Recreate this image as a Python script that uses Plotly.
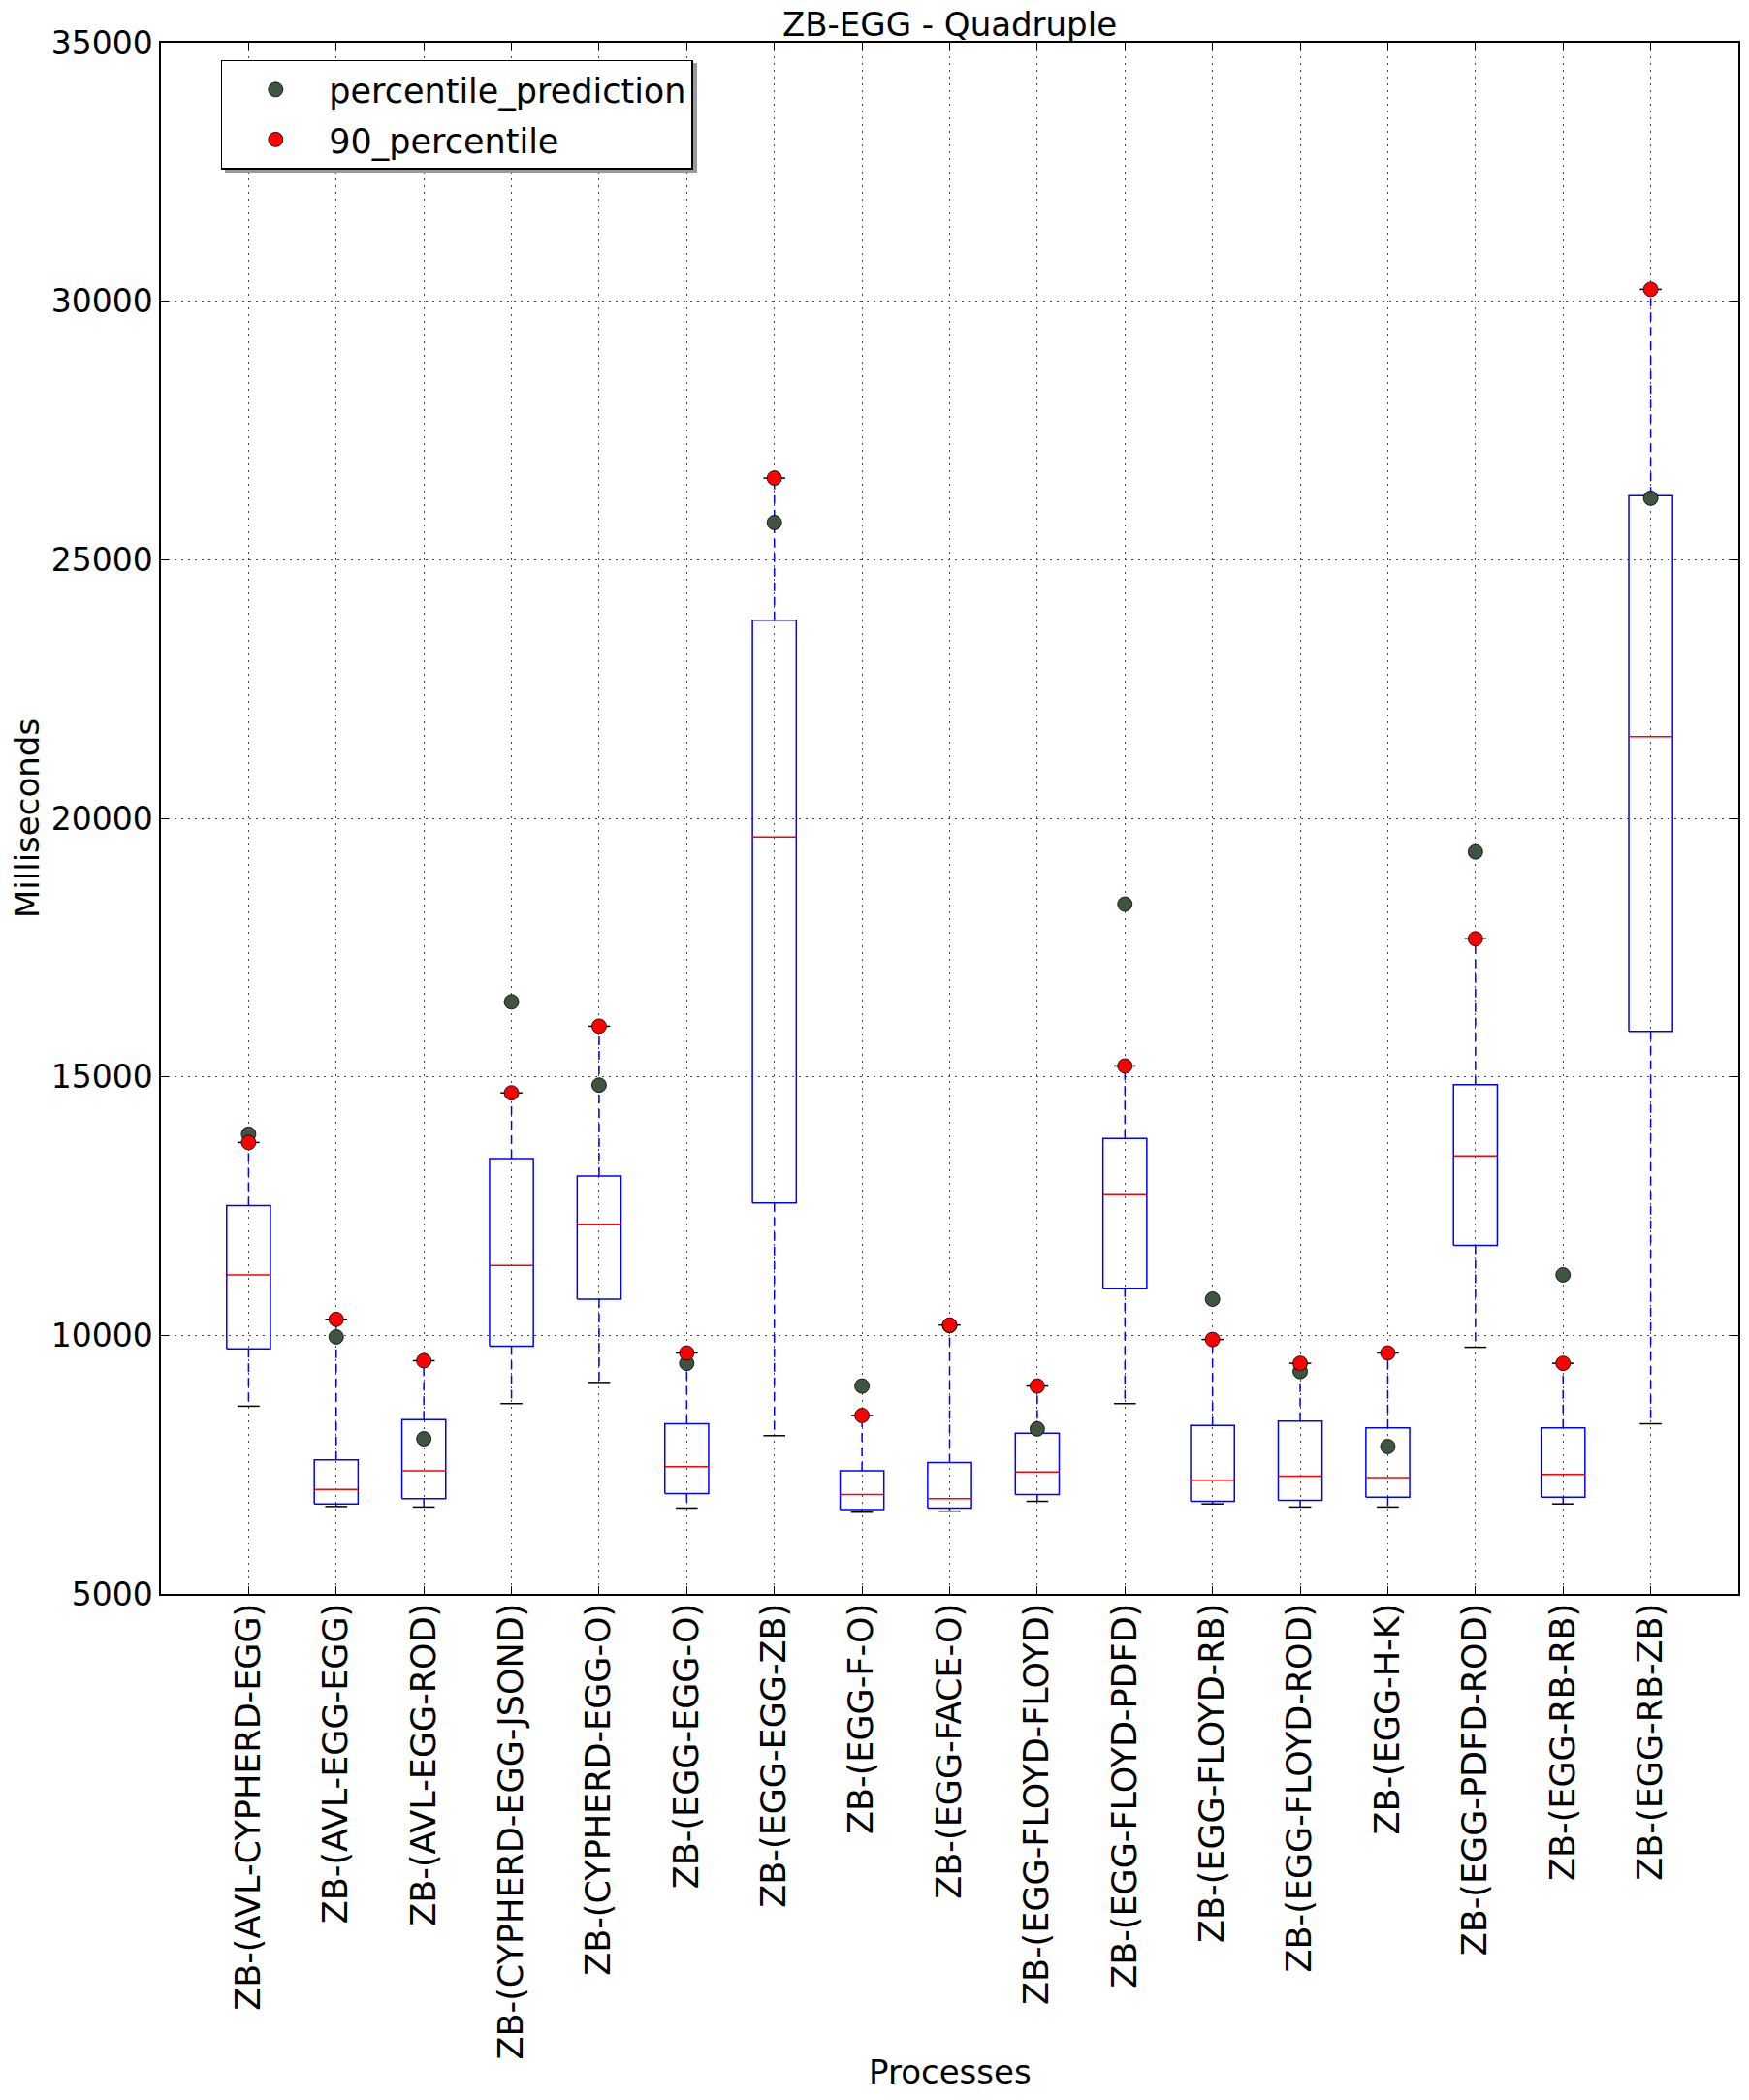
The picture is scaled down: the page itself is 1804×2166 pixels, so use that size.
import plotly.graph_objects as go

categories = [
    "ZB-(AVL-CYPHERD-EGG)", "ZB-(AVL-EGG-EGG)", "ZB-(AVL-EGG-ROD)",
    "ZB-(CYPHERD-EGG-JSOND)", "ZB-(CYPHERD-EGG-O)", "ZB-(EGG-EGG-O)",
    "ZB-(EGG-EGG-ZB)", "ZB-(EGG-F-O)", "ZB-(EGG-FACE-O)",
    "ZB-(EGG-FLOYD-FLOYD)", "ZB-(EGG-FLOYD-PDFD)", "ZB-(EGG-FLOYD-RB)",
    "ZB-(EGG-FLOYD-ROD)", "ZB-(EGG-H-K)", "ZB-(EGG-PDFD-ROD)",
    "ZB-(EGG-RB-RB)", "ZB-(EGG-RB-ZB)",
]
whisker_low = [8630, 6690, 6680, 8680, 9090, 6660, 8060, 6580, 6600, 6790, 8680, 6740, 6680, 6680, 9770, 6740, 8290]
q1 = [9740, 6740, 6840, 9790, 10700, 6940, 12560, 6630, 6660, 6920, 10910, 6790, 6810, 6870, 11740, 6870, 15880]
median = [11170, 7020, 7380, 11350, 12150, 7460, 19640, 6920, 6840, 7360, 12720, 7200, 7280, 7250, 13470, 7310, 21580]
q3 = [12510, 7590, 8370, 13420, 13080, 8290, 23830, 7380, 7540, 8110, 13810, 8260, 8340, 8210, 14850, 8210, 26240]
whisker_high = [13730, 10310, 9510, 14690, 15980, 9660, 26580, 8450, 10200, 9020, 15210, 9920, 9460, 9660, 17670, 9460, 30230]
percentile_90 = [13730, 10310, 9510, 14690, 15980, 9660, 26580, 8450, 10200, 9020, 15210, 9920, 9460, 9660, 17670, 9460, 30230]
percentile_prediction = [13890, 9970, 8000, 16450, 14840, 9460, 25720, 9020, 10190, 8190, 18340, 10700, 9300, 7850, 19350, 11170, 26190]

positions = list(range(1, len(categories) + 1))
BOX_HALF = 0.25
CAP_HALF = 0.125

box_x, box_y = [], []
med_x, med_y = [], []
wh_x, wh_y = [], []
cap_x, cap_y = [], []
for p, lo, a, m, b, hi in zip(positions, whisker_low, q1, median, q3, whisker_high):
    box_x += [p - BOX_HALF, p + BOX_HALF, p + BOX_HALF, p - BOX_HALF, p - BOX_HALF, None]
    box_y += [a, a, b, b, a, None]
    med_x += [p - BOX_HALF, p + BOX_HALF, None]
    med_y += [m, m, None]
    wh_x += [p, p, None, p, p, None]
    wh_y += [b, hi, None, a, lo, None]
    cap_x += [p - CAP_HALF, p + CAP_HALF, None, p - CAP_HALF, p + CAP_HALF, None]
    cap_y += [hi, hi, None, lo, lo, None]

fig = go.Figure()
fig.add_trace(go.Scatter(x=wh_x, y=wh_y, mode="lines", showlegend=False, hoverinfo="skip",
                         line=dict(color="#0000ff", width=1.5, dash="9px,6px")))
fig.add_trace(go.Scatter(x=box_x, y=box_y, mode="lines", showlegend=False, hoverinfo="skip",
                         line=dict(color="#0000ff", width=1.5)))
fig.add_trace(go.Scatter(x=med_x, y=med_y, mode="lines", showlegend=False, hoverinfo="skip",
                         line=dict(color="#ff0000", width=1.5)))
fig.add_trace(go.Scatter(x=cap_x, y=cap_y, mode="lines", showlegend=False, hoverinfo="skip",
                         line=dict(color="#000000", width=1.5)))
fig.add_trace(go.Scatter(x=positions, y=percentile_prediction, mode="markers", name="percentile_prediction",
                         legendgroup="a",
                         marker=dict(color="#3d5541", size=15, line=dict(color="#000000", width=0.8))))
fig.add_trace(go.Scatter(x=positions, y=percentile_90, mode="markers", name="90_percentile",
                         legendgroup="b",
                         marker=dict(color="#ff0000", size=15, line=dict(color="#000000", width=0.8))))

FONT = "DejaVu Sans"
W, H = 1796, 2158          # page body has an 8px margin
ML, MT = 158, 36
PW, PH = 1627, 1600
PLOT_LEFT, PLOT_TOP = 166, 44   # page pixels of the plot area corner

# legend drop shadow (page pixels -> paper coords)
sh_x0, sh_x1, sh_y0, sh_y1 = 232, 719, 65, 178
fig.update_layout(
    width=W, height=H,
    margin=dict(l=ML, r=W - ML - PW, t=MT, b=H - MT - PH),
    paper_bgcolor="white", plot_bgcolor="white",
    font=dict(family=FONT, size=33, color="black"),
    title=dict(text="ZB-EGG - Quadruple", x=(ML + PW / 2) / W, xanchor="center",
               y=1 - 29 / H, yanchor="bottom",
               font=dict(family=FONT, size=34, color="black")),
    legend=dict(x=0.038, y=0.989, xanchor="left", yanchor="top",
                bgcolor="white", bordercolor="black", borderwidth=1.5,
                font=dict(family=FONT, size=35), itemwidth=100, tracegroupgap=3),
    shapes=[dict(type="rect", xref="paper", yref="paper", layer="above",
                 x0=(sh_x0 - PLOT_LEFT) / PW, x1=(sh_x1 - PLOT_LEFT) / PW,
                 y0=1 - (sh_y1 - PLOT_TOP) / PH, y1=1 - (sh_y0 - PLOT_TOP) / PH,
                 fillcolor="#9a9a9a", line=dict(width=0))],
    xaxis=dict(
        range=[0, len(categories) + 1], tickmode="array", tickvals=positions, ticktext=categories,
        tickangle=-90, showgrid=True, gridcolor="#444", griddash="2px,5px", gridwidth=1,
        showline=True, linecolor="black", linewidth=1.5, mirror="ticks",
        ticks="inside", ticklen=8, tickcolor="black", zeroline=False,
        ticklabelstandoff=-6, automargin=False, tickfont=dict(family=FONT, size=35),
    ),
    yaxis=dict(
        range=[5000, 35000], tickmode="linear", tick0=5000, dtick=5000, tickformat="d",
        showgrid=True, gridcolor="#444", griddash="2px,5px", gridwidth=1,
        showline=True, linecolor="black", linewidth=1.5, mirror="ticks",
        ticks="inside", ticklen=8, tickcolor="black", zeroline=False,
        ticklabelstandoff=0, automargin=False, tickfont=dict(family=FONT, size=33),
    ),
    annotations=[
        dict(text="Processes", xref="paper", yref="paper", x=0.5, y=-(2137 - 1644) / PH,
             xanchor="center", yanchor="middle", showarrow=False,
             font=dict(family=FONT, size=34, color="black")),
        dict(text="Milliseconds", xref="paper", yref="paper", x=(28 - 166) / PW, y=0.5,
             xanchor="center", yanchor="middle", showarrow=False, textangle=-90,
             font=dict(family=FONT, size=34, color="black")),
    ],
)

fig.write_html("out.html")
